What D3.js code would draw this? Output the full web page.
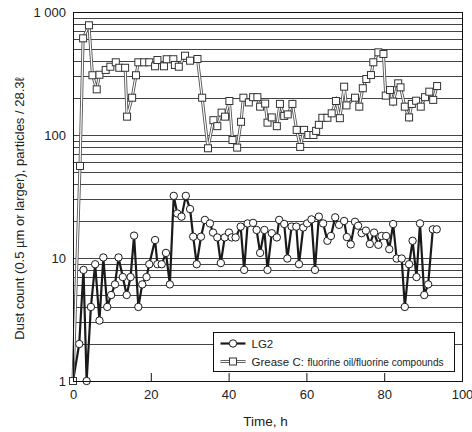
<!DOCTYPE html>
<html>
<head>
<meta charset="utf-8">
<script src="https://cdn.jsdelivr.net/npm/d3@7"></script>
<style>
  body { margin: 0; background: #fff; }
  svg { font-family: "Liberation Sans", Arial, sans-serif; }
  .axis text { font-size: 13px; fill: #222; }
  .axis path { display: none; }
  .axis line { stroke: #111; }
</style>
</head>
<body>
<div id="chart"></div>
<script>
// Series: time (h) and dust count
const lg2Time = [0, 1.6, 2.7, 3.5, 4.6, 5.7, 6.8, 7.8, 8.8, 9.8, 10.8, 11.7, 12.8, 13.8, 14.8, 15.7, 16.8, 17.8, 18.9, 19.6,
  21.1, 21.7, 22.8, 23.9, 24.9, 25.9, 26.8, 27.9, 29.0, 30.1, 30.9, 31.8, 32.9, 33.9, 35.2, 36.0, 37.1, 38.0, 39.0, 40.1,
  40.8, 41.8, 43.1, 44.0, 44.9, 46.3, 47.2, 48.1, 49.2, 50.0, 51.1, 52.4, 53.0, 54.3, 55.1, 56.2, 57.4, 58.1, 59.2, 60.2,
  61.3, 62.2, 63.2, 64.3, 65.4, 66.3, 67.4, 68.4, 69.7, 70.4, 71.4, 72.5, 73.3, 74.2, 75.3, 76.3, 77.4, 78.5, 79.3, 80.5,
  81.3, 82.3, 83.2, 84.5, 85.3, 86.4, 87.3, 88.3, 89.2, 90.3, 91.3, 92.5, 93.5];
const lg2Count = [1, 2.0, 8.0, 1.0, 4.0, 8.9, 3.1, 10.1, 4.0, 5.0, 6.1, 10.1, 7.0, 5.0, 7.0, 15.2, 4.0, 6.1, 7.0, 8.9,
  14.0, 8.9, 8.9, 11.0, 6.1, 32, 23, 21.7, 32, 25, 14.9, 8.9, 14.9, 20.4, 19.1, 16.1, 14.7, 9.1, 14.7, 16.1,
  14.7, 14.7, 18, 8.0, 19.1, 19.3, 16.9, 11.0, 16.9, 8.0, 15.9, 14.7, 20.4, 18.9, 9.9, 18, 18, 8.9, 17.7, 19.1,
  20.6, 8.0, 21.7, 19.1, 13.8, 15.1, 21.4, 18.6, 20.0, 14.8, 12.9, 19.7, 18.3, 15.9, 16.7, 13.0, 16.1, 12.8, 15.1, 15.1,
  11.8, 18.9, 9.9, 9.9, 4.0, 8.9, 13.8, 7.0, 19.1, 5.0, 6.1, 17.1, 17.1];

const greaseTime = [0, 1.8, 2.6, 4.1, 5.0, 6.1, 6.8, 8.4, 9.6, 11.0, 11.9, 13.4, 13.9, 15.2, 16.2, 16.8, 18.3, 19.6, 21.1, 21.7,
  23.4, 24.1, 25.8, 26.2, 27.2, 28.8, 30.1, 32.0, 33.2, 34.7, 36.1, 37.1, 38.2, 39.1, 40.2, 41.0, 42.2, 43.2, 43.8, 45.2,
  46.3, 47.4, 48.1, 49.4, 50.0, 51.1, 52.4, 53.2, 54.3, 55.2, 56.4, 57.5, 58.4, 59.4, 60.5, 61.8, 62.5, 63.2, 64.1, 65.4,
  66.5, 67.6, 68.6, 69.7, 70.3, 72.5, 73.6, 74.5, 75.4, 76.6, 77.2, 78.5, 79.8, 80.4, 81.5, 82.3, 83.6, 84.2, 85.3, 86.4,
  87.1, 88.2, 89.4, 90.5, 91.6, 92.6, 93.6];
const greaseCount = [1, 56, 611, 780, 306, 235, 309, 338, 359, 390, 352, 352, 141, 201, 306, 390, 390, 390, 362, 407,
  362, 413, 413, 371, 359, 441, 402, 415, 201, 78, 132, 118, 152, 141, 189, 91, 79, 128, 201, 184,
  203, 203, 170, 180, 126, 139, 118, 179, 143, 147, 179, 110, 80, 110, 100, 100, 108, 121, 138, 138,
  150, 189, 137, 247, 174, 201, 170, 240, 285, 307, 390, 470, 456, 209, 232, 187, 263, 244, 170, 139,
  179, 190, 170, 203, 225, 193, 250];

const xTicks = [0, 20, 40, 60, 80, 100];
const yTicks = [1, 10, 100, 1000];
const yTickLabels = ['1', '10', '100', '1 000'];
const legendLabels = ['LG2', 'Grease C:'];
const legendNote = 'fluorine oil/fluorine compounds';

const width = 472, height = 432;
const margin = {top: 12, right: 10, bottom: 51, left: 73};
const innerW = width - margin.left - margin.right;
const innerH = height - margin.top - margin.bottom;

const svg = d3.select('#chart').append('svg')
    .attr('width', width)
    .attr('height', height);

const chart = svg.append('g')
    .attr('transform', `translate(${margin.left},${margin.top})`);

const xScale = d3.scaleLinear().domain([0, 100]).range([0, innerW]);
const yScale = d3.scaleLog().domain([1, 1000]).range([innerH, 0]);

// Horizontal grid on every log minor
chart.append('g')
    .selectAll('line')
    .data(yScale.ticks())
    .join('line')
    .attr('x1', 0)
    .attr('x2', innerW)
    .attr('y1', d => Math.round(yScale(d)) + 0.5)
    .attr('y2', d => Math.round(yScale(d)) + 0.5)
    .attr('stroke', '#444')
    .attr('stroke-width', 1);

// Axes
const xAxis = d3.axisBottom(xScale)
    .tickValues(xTicks)
    .tickSizeInner(-8)
    .tickSizeOuter(0)
    .tickPadding(9);

const yAxis = d3.axisLeft(yScale)
    .tickValues(yTicks)
    .tickFormat((d, i) => yTickLabels[i])
    .tickSize(0)
    .tickPadding(7);

chart.append('g')
    .attr('class', 'axis x-axis')
    .attr('transform', `translate(0,${innerH})`)
    .call(xAxis);

chart.append('g')
    .attr('class', 'axis y-axis')
    .call(yAxis);

// Axis titles
svg.append('text')
    .attr('x', margin.left + innerW / 2 - 2)
    .attr('y', 426)
    .attr('text-anchor', 'middle')
    .attr('font-size', 13.5)
    .attr('fill', '#222')
    .text('Time, h');

svg.append('text')
    .attr('transform', `translate(24,${margin.top + innerH / 2 + 12}) rotate(-90)`)
    .attr('text-anchor', 'middle')
    .attr('font-size', 13)
    .attr('fill', '#222')
    .text('Dust count (0.5 µm or larger), particles / 28.3ℓ');

// Series
const lg2 = lg2Time.map((t, i) => ({t: t, v: lg2Count[i]}));
const grease = greaseTime.map((t, i) => ({t: t, v: greaseCount[i]}));

const line = d3.line()
    .x(d => xScale(d.t))
    .y(d => yScale(d.v));

chart.append('path')
    .datum(lg2)
    .attr('d', line)
    .attr('fill', 'none')
    .attr('stroke', '#1a1a1a')
    .attr('stroke-width', 2.2)
    .attr('stroke-linejoin', 'round');

chart.selectAll('.lg2-pt')
    .data(lg2)
    .join('circle')
    .attr('class', 'lg2-pt')
    .attr('cx', d => xScale(d.t))
    .attr('cy', d => yScale(d.v))
    .attr('r', 3.7)
    .attr('fill', '#fff')
    .attr('stroke', '#1a1a1a')
    .attr('stroke-width', 1);

// Grease C: hollow (double) line
chart.append('path')
    .datum(grease)
    .attr('d', line)
    .attr('fill', 'none')
    .attr('stroke', '#555')
    .attr('stroke-width', 3);

chart.append('path')
    .datum(grease)
    .attr('d', line)
    .attr('fill', 'none')
    .attr('stroke', '#fff')
    .attr('stroke-width', 1.2);

chart.selectAll('.grease-pt')
    .data(grease)
    .join('rect')
    .attr('class', 'grease-pt')
    .attr('x', d => xScale(d.t) - 3.5)
    .attr('y', d => yScale(d.v) - 3.5)
    .attr('width', 7)
    .attr('height', 7)
    .attr('fill', '#fff')
    .attr('stroke', '#333')
    .attr('stroke-width', 1);

// Plot frame
chart.append('rect')
    .attr('x', 0.5)
    .attr('y', 0.5)
    .attr('width', innerW)
    .attr('height', innerH)
    .attr('fill', 'none')
    .attr('stroke', '#111')
    .attr('stroke-width', 1);

// Legend
const legend = svg.append('g')
    .attr('transform', 'translate(213.5,332.5)');

legend.append('rect')
    .attr('width', 241)
    .attr('height', 39)
    .attr('fill', '#fff')
    .attr('stroke', '#111');

const rows = legend.selectAll('.row')
    .data(legendLabels)
    .join('g')
    .attr('class', 'row')
    .attr('transform', (d, i) => `translate(0,${11 + i * 18})`);

rows.each(function(d, i) {
  const g = d3.select(this);
  if (i === 0) {
    g.append('line').attr('x1', 7).attr('x2', 32).attr('stroke', '#1a1a1a').attr('stroke-width', 2.2);
    g.append('circle').attr('cx', 19.5).attr('r', 3.7).attr('fill', '#fff').attr('stroke', '#1a1a1a');
  } else {
    g.append('line').attr('x1', 7).attr('x2', 32).attr('stroke', '#555').attr('stroke-width', 3);
    g.append('line').attr('x1', 7).attr('x2', 32).attr('stroke', '#fff').attr('stroke-width', 1.2);
    g.append('rect').attr('x', 16).attr('y', -3.5).attr('width', 7).attr('height', 7)
        .attr('fill', '#fff').attr('stroke', '#333');
  }
  g.append('text')
      .attr('x', 38)
      .attr('y', 4)
      .attr('font-size', 11.5)
      .attr('fill', '#222')
      .text(d);
  if (i === 1) {
    // condensed note squeezed to fit the box, as in the source
    g.append('text')
        .attr('x', 94)
        .attr('y', 4)
        .attr('font-size', 11)
        .attr('fill', '#222')
        .attr('textLength', 136)
        .attr('lengthAdjust', 'spacingAndGlyphs')
        .text(legendNote);
  }
});
</script>
</body>
</html>
